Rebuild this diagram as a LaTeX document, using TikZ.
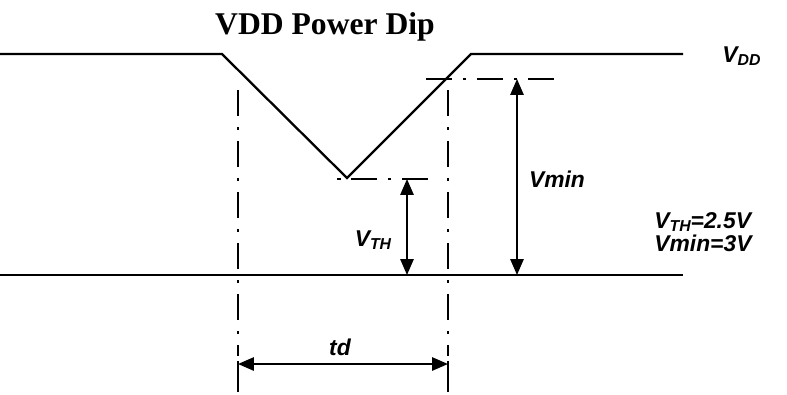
\documentclass[tikz,border=0pt]{standalone}
\usepackage{fontspec}
\setmainfont{Liberation Serif}
\setsansfont{Liberation Sans}
\usetikzlibrary{arrows.meta}

\newcommand{\vsub}[1]{V\raisebox{-0.25ex}{\fontsize{9}{10}\selectfont #1}}

\begin{document}
\begin{tikzpicture}[
    x=0.2mm, y=-0.2mm,
    supply/.style={line width=1.3pt},
    guide/.style={line width=1.1pt, dash pattern=on 15pt off 6pt on 2pt off 6pt},
    dimarrow/.style={{Triangle[length=9pt,width=7.5pt]}-{Triangle[length=9pt,width=7.5pt]}, line width=1.1pt},
    lbl/.style={font=\sffamily\bfseries\itshape\fontsize{13}{12}\selectfont, inner sep=0pt}
  ]
  \useasboundingbox (0,0) rectangle (787,394);

  % title
  \node[font=\bfseries\fontsize{18}{22}\selectfont, inner sep=0pt] (title) at (325,27) {VDD Power Dip};

  % VDD waveform with the dip
  \coordinate (vddL) at (0,54);
  \coordinate (fall) at (222,54);
  \coordinate (dip) at (347,178);
  \coordinate (rise) at (471,54);
  \coordinate (vddR) at (683,54);
  \draw[supply] (vddL) -- (fall) -- (dip) -- (rise) -- (vddR);
  \node[lbl, anchor=west] (vdd) at (722,56) {\vsub{DD}};

  % ground line
  \coordinate (gndL) at (0,275);
  \coordinate (gndR) at (683,275);
  \draw[supply] (gndL) -- (gndR);

  % guide lines
  \coordinate (t0top) at (238,90);
  \coordinate (t0bot) at (238,356);
  \coordinate (t1top) at (448,90);
  \coordinate (t1bot) at (448,356);
  \draw[guide] (t0top) -- (t0bot);
  \draw[guide] (t1top) -- (t1bot);
  \coordinate (vminL) at (426,79);
  \coordinate (vminR) at (560,79);
  \draw[guide] (vminL) -- (vminR);
  \coordinate (vthL) at (337,179);
  \coordinate (vthR) at (432,179);
  \draw[guide, dash pattern=on 2pt off 6pt on 15pt off 6pt] (vthL) -- (vthR);

  % dimension for VTH
  \coordinate (vthtop) at (407,179);
  \coordinate (vthbot) at (407,275);
  \draw[dimarrow] (vthbot) -- (vthtop);
  \node[lbl] (vth) at (373,240) {\vsub{TH}};

  % dimension for Vmin
  \coordinate (vmintop) at (517,79);
  \coordinate (vminbot) at (517,275);
  \draw[dimarrow] (vminbot) -- (vmintop);
  \node[lbl] (vmin) at (557,179) {Vmin};

  % dimension for td
  \coordinate (td0) at (238,364);
  \coordinate (td1) at (448,364);
  \draw[line width=1.1pt] (238,361) -- (238,392);
  \draw[line width=1.1pt] (448,361) -- (448,392);
  \draw[dimarrow] (td0) -- (td1);
  \node[lbl] (td) at (340,347) {td};

  % values
  \node[lbl, anchor=west, align=left] (values) at (654,232) {\vsub{TH}=2.5V\\[1pt]Vmin=3V};
\end{tikzpicture}
\end{document}
